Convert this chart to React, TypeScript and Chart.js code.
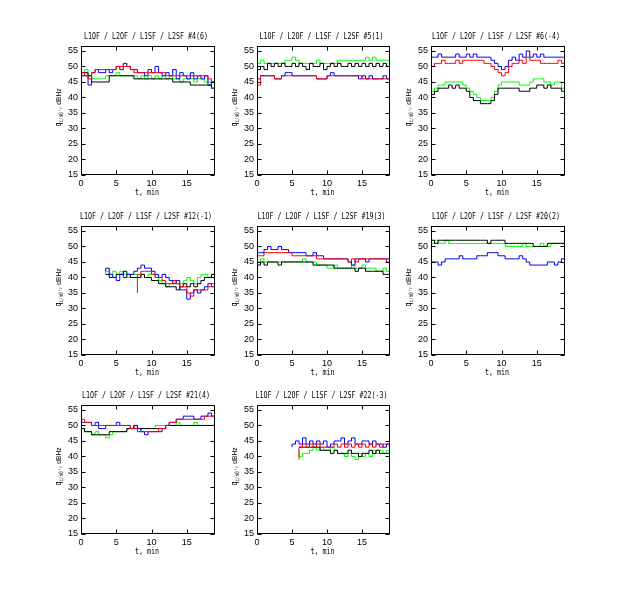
import React, { useEffect, useRef } from 'react';
import { Chart, registerables } from 'chart.js';

Chart.register(...registerables);

const N = null;

// time axis, minutes
const T = [0, 0.5, 1, 1.5, 2, 2.5, 3, 3.5, 4, 4.5, 5, 5.5, 6, 6.5, 7, 7.5, 8, 8.5, 9, 9.5,
  10, 10.5, 11, 11.5, 12, 12.5, 13, 13.5, 14, 14.5, 15, 15.5, 16, 16.5, 17, 17.5, 18, 18.5, 19];

const xTicks = [0, 5, 10, 15];
const yTicks = [15, 20, 25, 30, 35, 40, 45, 50, 55];

// #4(6)
const s4Blue = [51, 48, 47, 44, 48, 49, 48, 48, 49, 48, 49, 50, 49, 51, 50, 49, 49, 48, 48, 47, 49, 48, 50, 48, 47, 48, 47, 49, 46, 48, 47, 46, 48, 46, 47, 46, 47, 44, 45];
const s4Red = [49, 48, 47, 46, 48, 49, 49, 49, 49, 49, 49, 50, 50, 50, 50, 49, 48, 48, 48, 48, 48, 48, 48, 48, 48, 47, 47, 47, 47, 47, 47, 47, 47, 47, 47, 47, 47, 46, 45];
const s4Green = [49, 48, 49, 47, 46, 46, 46, 46, 47, 47, 47, 48, 47, 47, 47, 47, 47, 46, 47, 46, 47, 46, 47, 46, 47, 46, 47, 46, 46, 45, 46, 46, 46, 45, 46, 46, 45, 45, 43];
const s4Black = [48, 47, 48, 47, 45, 45, 45, 45, 45, 47, 47, 47, 47, 47, 47, 47, 46, 46, 46, 46, 46, 46, 46, 46, 46, 46, 46, 45, 45, 45, 45, 45, 44, 44, 44, 44, 44, 44, 43];

// #5(1)
const s5Blue = [47, 46, 47, 47, 47, 47, 46, 46, 47, 48, 48, 47, 47, 47, 47, 47, 47, 47, 46, 46, 46, 47, 48, 47, 47, 47, 47, 47, 47, 47, 46, 47, 46, 47, 46, 46, 46, 47, 46];
const s5Red = [47, 44, 47, 47, 47, 47, 46, 46, 47, 47, 47, 47, 47, 47, 47, 47, 47, 47, 46, 46, 46, 47, 47, 47, 47, 47, 47, 47, 47, 47, 47, 46, 46, 46, 46, 46, 46, 46, 46];
const s5Green = [51, 51, 52, 51, 51, 51, 51, 51, 51, 52, 52, 53, 52, 51, 51, 51, 51, 51, 52, 51, 51, 51, 51, 51, 52, 52, 52, 52, 52, 52, 52, 52, 53, 52, 53, 52, 52, 52, 52];
const s5Black = [50, 49, 50, 49, 51, 50, 51, 50, 51, 50, 50, 51, 50, 51, 50, 49, 51, 50, 50, 51, 49, 50, 51, 50, 51, 50, 50, 51, 50, 51, 50, 51, 50, 51, 50, 51, 50, 51, 50];

// #6(-4)
const s6Blue = [52, 53, 53, 54, 53, 53, 53, 53, 54, 53, 53, 54, 53, 54, 53, 53, 53, 53, 52, 51, 50, 49, 50, 52, 53, 52, 54, 53, 55, 53, 54, 53, 54, 53, 53, 53, 53, 53, 53];
const s6Red = [51, 50, 51, 51, 52, 51, 51, 51, 52, 51, 52, 52, 52, 52, 52, 52, 51, 51, 50, 49, 48, 47, 48, 50, 51, 51, 52, 51, 53, 52, 52, 52, 51, 51, 51, 51, 51, 52, 51];
const s6Green = [43, 42, 43, 44, 44, 45, 45, 45, 45, 45, 44, 43, 42, 41, 40, 39, 39, 39, 40, 42, 44, 45, 45, 45, 45, 45, 44, 44, 44, 45, 46, 46, 46, 45, 45, 44, 45, 45, 43];
const s6Black = [41, 41, 42, 43, 43, 43, 44, 43, 44, 43, 43, 42, 40, 39, 39, 38, 38, 38, 39, 41, 43, 43, 43, 43, 43, 43, 42, 42, 42, 43, 43, 44, 44, 43, 44, 43, 43, 43, 42];

// #12(-1)
const s12Blue = [N, N, N, N, N, N, N, 42, 43, 41, 40, 39, 41, 40, 41, 41, 42, 43, 44, 43, 43, 42, 41, 40, 41, 40, 39, 38, 39, 36, 36, 33, 35, 36, 35, 36, 37, 38, 37];
const s12Red = [N, N, N, N, N, N, N, N, N, N, N, N, N, N, N, N, 35, 41, 42, 42, 42, 41, 40, 40, 39, 38, 38, 39, 38, 37, 37, 35, 34, 36, 36, 36, 36, 37, 38];
const s12Green = [N, N, N, N, N, N, N, 41, 42, 41, 42, 41, 42, 41, 40, 41, 41, 40, 41, 40, 41, 41, 40, 39, 38, 37, 38, 39, 38, 38, 39, 40, 39, 38, 40, 41, 41, 40, 41];
const s12Black = [N, N, N, N, N, N, N, 41, 41, 40, 40, 41, 41, 42, 41, 40, 40, 40, 41, 40, 40, 39, 39, 38, 38, 37, 37, 37, 36, 37, 38, 37, 38, 37, 38, 39, 40, 40, 41];

// #19(3)
const s19Blue = [49, 48, 48, 49, 50, 49, 49, 50, 49, 49, 48, 48, 48, 48, 48, 47, 47, 48, 47, 47, 46, 46, 46, 46, 46, 46, 46, 45, 44, 46, 46, 46, 45, 46, 46, 46, 46, 46, 46];
const s19Red = [48, 47, 47, 48, 48, 48, 48, 48, 48, 48, 48, 47, 47, 47, 47, 47, 47, 47, 46, 46, 46, 46, 46, 46, 46, 46, 46, 45, 46, 45, 46, 46, 46, 46, 46, 46, 46, 46, 45];
const s19Green = [46, 45, 46, 45, 45, 45, 45, 45, 45, 45, 45, 45, 45, 45, 46, 45, 45, 45, 44, 44, 44, 43, 43, 44, 43, 43, 43, 43, 44, 43, 43, 44, 43, 43, 43, 42, 42, 43, 42];
const s19Black = [45, 44, 45, 44, 45, 45, 45, 44, 45, 45, 45, 45, 45, 45, 45, 45, 45, 44, 44, 44, 44, 44, 44, 43, 43, 43, 43, 43, 43, 42, 43, 43, 42, 42, 42, 42, 42, 41, 41];

// #20(2)
const s20Blue = [45, 45, 45, 44, 45, 46, 46, 46, 46, 47, 46, 46, 46, 46, 47, 47, 47, 48, 48, 48, 47, 47, 46, 46, 46, 46, 47, 46, 45, 44, 44, 44, 44, 44, 45, 45, 44, 45, 46];
const s20Red: (number | null)[] = [];
const s20Green = [51, 51, 52, 51, 51, 52, 51, 51, 51, 51, 51, 51, 51, 51, 51, 51, 51, 51, 51, 51, 51, 51, 50, 50, 50, 50, 50, 51, 50, 50, 50, 50, 51, 50, 50, 51, 51, 51, 51];
const s20Black = [51, 52, 51, 52, 52, 52, 52, 52, 52, 52, 52, 52, 52, 52, 52, 52, 52, 51, 52, 52, 52, 52, 51, 51, 51, 51, 51, 51, 51, 51, 50, 50, 50, 50, 51, 51, 51, 51, 51];

// #21(4)
const s21Blue = [52, 51, 51, 51, 50, 51, 49, 49, 50, 50, 50, 51, 50, 50, 50, 49, 50, 49, 48, 47, 48, 48, 48, 48, 49, 50, 51, 51, 52, 52, 53, 53, 53, 52, 52, 53, 53, 54, 53];
const s21Red = [52, 52, 51, 51, 50, 50, 50, 50, 50, 50, 50, 50, 50, 50, 50, 49, 49, 48, 48, 48, 48, 48, 48, 49, 49, 50, 51, 51, 52, 52, 52, 52, 52, 52, 52, 52, 53, 53, 53];
const s21Green = [50, 49, 48, 48, 47, 48, 47, 47, 46, 47, 48, 48, 48, 48, 49, 49, 49, 48, 49, 49, 49, 49, 50, 50, 50, 50, 50, 50, 51, 50, 50, 50, 50, 51, 50, 50, 50, 50, 50];
const s21Black = [50, 49, 48, 48, 47, 47, 47, 47, 47, 48, 48, 48, 48, 48, 49, 49, 50, 49, 49, 49, 49, 49, 49, 49, 49, 50, 50, 50, 50, 50, 50, 50, 50, 50, 50, 50, 50, 50, 50];

// #22(-3)
const s22Blue = [N, N, N, N, N, N, N, N, N, N, 43, 44, 45, 44, 46, 44, 45, 44, 45, 44, 45, 43, 44, 45, 45, 46, 44, 45, 46, 44, 44, 45, 45, 44, 45, 44, 44, 43, 44];
const s22Red = [N, N, N, N, N, N, N, N, N, N, N, N, 39, 43, 44, 43, 44, 43, 44, 43, 43, 43, 43, 44, 43, 44, 43, 44, 43, 44, 43, 44, 43, 44, 43, 44, 43, 44, 44];
const s22Green = [N, N, N, N, N, N, N, N, N, N, N, N, 42, 40, 41, 41, 42, 43, 42, 43, 42, 42, 43, 42, 41, 41, 40, 41, 40, 39, 41, 40, 41, 40, 42, 41, 42, 41, 42];
const s22Black = [N, N, N, N, N, N, N, N, N, N, N, N, 43, 43, 43, 43, 43, 43, 43, 42, 42, 42, 41, 42, 41, 41, 41, 42, 41, 41, 40, 41, 41, 42, 41, 42, 41, 41, 41];

const panels = [
  { title: 'L1OF / L2OF / L1SF / L2SF #4(6)', red: s4Red, blue: s4Blue, green: s4Green, black: s4Black },
  { title: 'L1OF / L2OF / L1SF / L2SF #5(1)', red: s5Red, blue: s5Blue, green: s5Green, black: s5Black },
  { title: 'L1OF / L2OF / L1SF / L2SF #6(-4)', red: s6Red, blue: s6Blue, green: s6Green, black: s6Black },
  { title: 'L1OF / L2OF / L1SF / L2SF #12(-1)', red: s12Red, blue: s12Blue, green: s12Green, black: s12Black },
  { title: 'L1OF / L2OF / L1SF / L2SF #19(3)', red: s19Red, blue: s19Blue, green: s19Green, black: s19Black },
  { title: 'L1OF / L2OF / L1SF / L2SF #20(2)', red: s20Red, blue: s20Blue, green: s20Green, black: s20Black },
  { title: 'L1OF / L2OF / L1SF / L2SF #21(4)', red: s21Red, blue: s21Blue, green: s21Green, black: s21Black },
  { title: 'L1OF / L2OF / L1SF / L2SF #22(-3)', red: s22Red, blue: s22Blue, green: s22Green, black: s22Black },
];

// page layout of the plot boxes
const colLeft = [81, 257, 431];
const colW = [134, 133, 134];
const rowTop = [46, 226, 405];
const PLOT_H = 129;
const AX_W = 56;   // room left of the box
const PAD_T = 18;  // room above the box
const PAD_R = 8;
const AX_H = 32;   // room below the box

const MONO = '"DejaVu Sans Mono", monospace';
const SANS = '"Liberation Sans", Arial, sans-serif';

const gnuFrame = {
  id: 'gnuFrame',
  afterDraw(chart: any, _args: any, opts: any) {
    const { ctx, chartArea: a, scales } = chart;
    const L = Math.round(a.left) + 0.5, R = Math.round(a.right) - 0.5;
    const Tp = Math.round(a.top) + 0.5, B = Math.round(a.bottom) - 0.5;
    ctx.save();
    ctx.strokeStyle = '#000';
    ctx.lineWidth = 1;
    ctx.strokeRect(L, Tp, R - L, B - Tp);
    ctx.beginPath();
    xTicks.forEach((v) => {
      const px = Math.round(scales.x.getPixelForValue(v)) + 0.5;
      ctx.moveTo(px, B); ctx.lineTo(px, B - 4);
      ctx.moveTo(px, Tp); ctx.lineTo(px, Tp + 4);
    });
    yTicks.forEach((v) => {
      const py = Math.round(scales.y.getPixelForValue(v)) + 0.5;
      ctx.moveTo(L, py); ctx.lineTo(L + 4, py);
      ctx.moveTo(R, py); ctx.lineTo(R - 4, py);
    });
    ctx.stroke();

    ctx.fillStyle = '#000';
    const cx = (a.left + a.right) / 2;
    // title
    ctx.font = `8px ${MONO}`;
    ctx.textAlign = 'center';
    ctx.textBaseline = 'middle';
    const tw = ctx.measureText(opts.title).width;
    ctx.fillText(opts.title, cx - 2, a.top - 9, Math.min(tw, opts.title.length * 4));
    // x label
    const xl = 't, min';
    ctx.fillText(xl, cx - 1, a.bottom + 18, xl.length * 4);
    // y label with subscript
    const cy = (a.top + a.bottom) / 2 - 3;
    ctx.translate(a.left - 22, cy);
    ctx.rotate(-Math.PI / 2);
    ctx.textAlign = 'left';
    const parts = [
      { t: 'q', f: `8px ${MONO}`, dy: 0, w: 4 },
      { t: "c/n0'", f: `6px ${MONO}`, dy: 2, w: 13 },
      { t: ',', f: `8px ${MONO}`, dy: 0, w: 3 },
      { t: ' dBHz', f: `8px ${SANS}`, dy: 0, w: 18 },
    ];
    const total = parts.reduce((s, p) => s + p.w, 0);
    let x = -total / 2;
    parts.forEach((p) => {
      ctx.font = p.f;
      const w = ctx.measureText(p.t).width;
      ctx.fillText(p.t, x, p.dy, Math.min(w, p.w));
      x += p.w;
    });
    ctx.restore();
  },
};

function Panel({ p, left, top, plotW }: any) {
  const ref = useRef<HTMLCanvasElement>(null);

  useEffect(() => {
    if (!ref.current) return;
    const mk = (vals: (number | null)[], color: string) => ({
      data: vals.map((v, i) => ({ x: T[i], y: v })),
      borderColor: color,
      borderWidth: 1,
      pointRadius: 0,
      stepped: 'after' as const,
      fill: false,
      spanGaps: false,
    });
    const tickFont = { family: SANS, size: 9 };
    const chart = new Chart(ref.current, {
      type: 'line',
      data: {
        datasets: [mk(p.red, '#ff0000'), mk(p.blue, '#0000ff'), mk(p.black, '#000000'), mk(p.green, '#00ff00')] as any,
      },
      options: {
        animation: false,
        responsive: false,
        events: [],
        layout: { padding: { top: PAD_T, right: PAD_R, left: 0, bottom: 0 } },
        plugins: {
          legend: { display: false },
          tooltip: { enabled: false },
          gnuFrame: { title: p.title },
        } as any,
        scales: {
          x: {
            type: 'linear',
            min: 0,
            max: 19,
            grid: { display: false, drawTicks: false },
            border: { display: false },
            afterBuildTicks: (s: any) => { s.ticks = xTicks.map((v) => ({ value: v })); },
            afterFit: (s: any) => { s.height = AX_H; },
            ticks: { font: tickFont, color: '#000', padding: 3, maxRotation: 0, autoSkip: false },
          },
          y: {
            type: 'linear',
            min: 15,
            max: 56.6,
            grid: { display: false, drawTicks: false },
            border: { display: false },
            afterBuildTicks: (s: any) => { s.ticks = yTicks.map((v) => ({ value: v })); },
            afterFit: (s: any) => { s.width = AX_W; },
            ticks: { font: tickFont, color: '#000', padding: 3, autoSkip: false },
          },
        },
      },
      plugins: [gnuFrame],
    });
    return () => chart.destroy();
  }, [p]);

  const w = AX_W + plotW + PAD_R;
  const h = PAD_T + PLOT_H + AX_H;
  return (
    <canvas
      ref={ref}
      width={w}
      height={h}
      style={{ position: 'absolute', left: left - AX_W, top: top - PAD_T, width: w, height: h }}
    />
  );
}

export default function App() {
  return (
    <div style={{ position: 'absolute', left: 0, top: 0, width: 623, height: 600, background: '#fff' }}>
      {panels.map((p, i) => (
        <Panel key={i} p={p} left={colLeft[i % 3]} top={rowTop[Math.floor(i / 3)]} plotW={colW[i % 3]} />
      ))}
    </div>
  );
}
